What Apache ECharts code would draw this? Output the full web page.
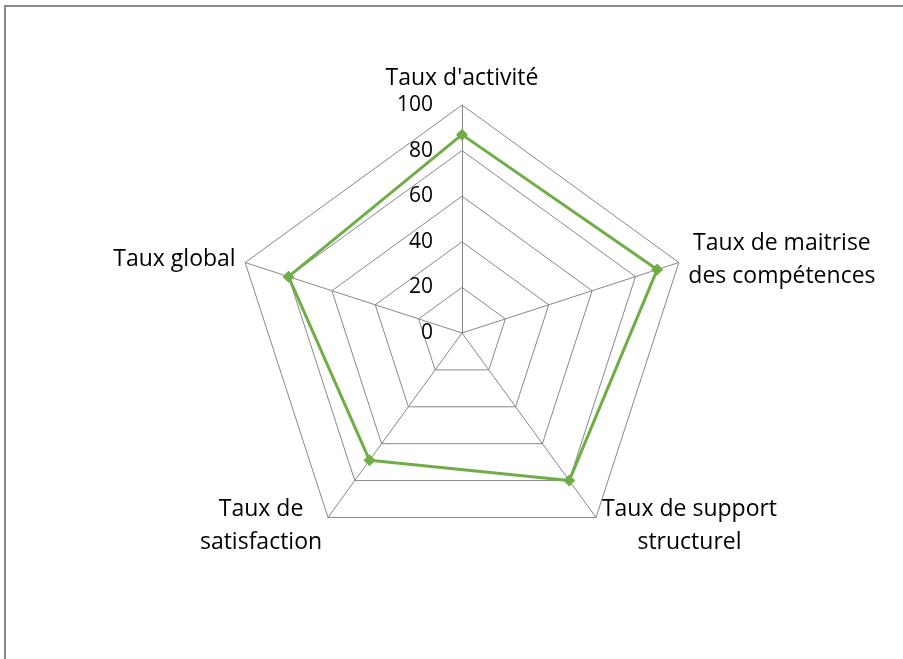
<!DOCTYPE html>
<html>
<head>
<meta charset="utf-8">
<script src="https://cdn.jsdelivr.net/npm/echarts@6/dist/echarts.min.js"></script>
<style>html,body{margin:0;padding:0;background:#fff}#c{width:903px;height:659px}</style>
</head>
<body>
<div id="c"></div>
<script>
// Categories in clockwise order starting from the top
const indicatorNames = ["Taux d'activité", "Taux de maitrise\ndes compétences", "Taux de support\nstructurel", "Taux de\nsatisfaction", "Taux global"];
const seriesValues = [87, 90, 80, 69, 80];
const axisMax = 100;
const axisSplits = 5;

// ECharts radar runs counter-clockwise: reorder so the display is clockwise
const order = [0].concat(indicatorNames.map((_, i) => i).slice(1).reverse());

const FONT = 'Open Sans';
const chart = echarts.init(document.getElementById('c'), null, {renderer: 'canvas'});
const indicators = order.map((idx, i) => {
  const o = {name: indicatorNames[idx], min: 0, max: axisMax};
  if (i === 0) {
    o.axisLabel = {show: true, color: '#000', fontFamily: FONT, fontSize: 21, margin: 29, padding: [6, 0, 0, 0], showMinLabel: true, showMaxLabel: true};
  }
  return o;
});
const displayValues = order.map(idx => seriesValues[idx]);
chart.setOption({
  animation: false,
  backgroundColor: '#fff',
  graphic: [{type: 'rect', shape: {x: 5, y: 6, width: 1000, height: 1000}, style: {fill: 'none', stroke: '#8a8a8a', lineWidth: 2}, silent: true}],
  radar: {
    center: [462, 333],
    radius: 228,
    startAngle: 90,
    shape: 'polygon',
    splitNumber: axisSplits,
    indicator: indicators,
    nameGap: 10,
    axisName: {
      color: '#000', fontFamily: FONT, fontSize: 23, lineHeight: 33,
      formatter: function (v) { return v.split('\n').map(s => '{c|' + s + '}').join('\n'); },
      rich: {c: {align: 'center', color: '#000', fontFamily: FONT, fontSize: 23, lineHeight: 33}}
    },
    axisLine: {show: true, lineStyle: {color: '#888888', width: 1}},
    splitLine: {show: true, lineStyle: {color: '#888888', width: 1}},
    splitArea: {show: false},
    axisTick: {show: false},
    axisLabel: {show: false}
  },
  series: [{
    type: 'radar',
    symbol: 'diamond',
    symbolSize: 12,
    lineStyle: {color: '#70AD47', width: 3},
    itemStyle: {color: '#70AD47'},
    data: [{value: displayValues}]
  }]
});
</script>
</body>
</html>
